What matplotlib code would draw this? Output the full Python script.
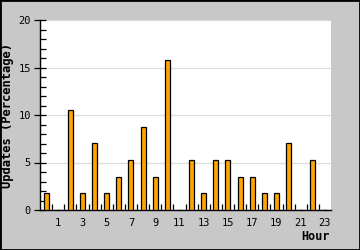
import matplotlib
matplotlib.use('Agg')
import matplotlib.pyplot as plt
from matplotlib.patches import Rectangle

hours = list(range(24))
updates = [1.75, 0, 10.53, 1.75, 7.02, 1.75, 3.51, 5.26, 8.77, 3.51, 15.79, 0,
           5.26, 1.75, 5.26, 5.26, 3.51, 3.51, 1.75, 1.75, 7.02, 0, 5.26, 0]
hour_labels = [str(h) for h in hours if h % 2 == 1]

plt.rcParams['font.family'] = 'DejaVu Sans Mono'

fig = plt.figure(figsize=(3.6, 2.5), dpi=100, facecolor='#c8c8c8')
ax = fig.add_axes([40/360, 1-210/250, 291/360, 190/250])
ax.set_facecolor('white')

ax.bar(hours, updates, width=0.42, color='#ffa500', edgecolor='black', linewidth=0.9, zorder=3)

ax.set_xlim(-0.5, 23.5)
ax.set_ylim(0, 20)

ax.set_xticks([h for h in hours if h % 2 == 1])
ax.set_xticklabels(hour_labels, fontsize=7.5)
ax.set_xticks([h + 0.5 for h in hours[:-1]], minor=True)
ax.tick_params(axis='x', which='major', length=0, pad=6)
ax.tick_params(axis='x', which='minor', direction='in', length=4, width=0.9)

ax.set_yticks([0, 5, 10, 15, 20])
ax.set_yticks(range(0, 21), minor=True)
ax.tick_params(axis='y', which='major', direction='inout', length=9, width=0.9, labelsize=7.5, pad=2)
ax.tick_params(axis='y', which='minor', direction='in', length=4, width=0.9)
ax.yaxis.grid(True, color='#dddddd', linewidth=0.9, zorder=0)
ax.axhline(20, color='#dddddd', linewidth=0.9, zorder=0)

for s in ['top', 'right']:
    ax.spines[s].set_visible(False)
for s in ['left', 'bottom']:
    ax.spines[s].set_linewidth(1.0)

ax.set_ylabel('Updates (Percentage)', fontsize=8.7, fontweight='bold', labelpad=3)
fig.text(330/360, 1-236/250, 'Hour', fontsize=8.5, fontweight='bold', ha='right', va='center')

fig.patches.append(Rectangle((0, 0), 1, 1, transform=fig.transFigure, fill=False,
                             edgecolor='black', linewidth=2))

fig.savefig('out.png', dpi=100, facecolor=fig.get_facecolor())
